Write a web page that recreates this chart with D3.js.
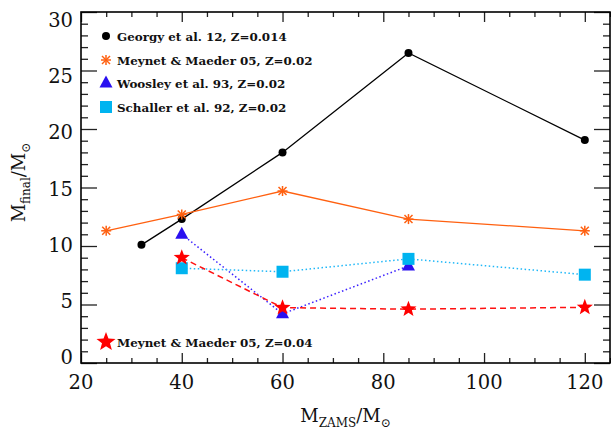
<!DOCTYPE html>
<html><head><meta charset="utf-8">
<script src="https://cdn.jsdelivr.net/npm/d3@7"></script>
<style>body{margin:0;background:#fff}svg{display:block}</style></head>
<body><svg id="c" width="611" height="432"></svg>
<script>
// ---- data ----
const georgyX = [32, 40, 60, 85, 120];
const georgyY = [10.1, 12.3, 18.0, 26.5, 19.05];
const mm02X = [25, 40, 60, 85, 120];
const mm02Y = [11.3, 12.7, 14.7, 12.3, 11.3];
const woosleyX = [40, 60, 85];
const woosleyY = [11.0, 4.2, 8.3];
const schallerX = [40, 60, 85, 120];
const schallerY = [8.1, 7.8, 8.9, 7.55];
const mm04X = [40, 60, 85, 120];
const mm04Y = [9.0, 4.73, 4.6, 4.76];
const xTicks = [20, 40, 60, 80, 100, 120];
const yTicks = [0, 5, 10, 15, 20, 25, 30];
const legendLabels = ["Georgy et al. 12, Z=0.014", "Meynet & Maeder 05, Z=0.02",
  "Woosley et al. 93, Z=0.02", "Schaller et al. 92, Z=0.02", "Meynet & Maeder 05, Z=0.04"];

const svg = d3.select("#c");
const L = 81, R = 610, T = 12, B = 363;
const x = d3.scaleLinear().domain([20, 125]).range([L, R]);
const y = d3.scaleLinear().domain([0, 30]).range([B, T]);
const yLab = d3.scaleLinear().domain([0, 30]).range([357, 20]);
const serif = "'DejaVu Serif', serif";

const xMinor = d3.range(20, 126, 5).filter(v => v % 20 !== 0);
const yMinor = d3.range(0, 31, 1).filter(v => v % 5 !== 0);

function ax(gen, tr, vals, size) {
  const g = svg.append("g").attr("transform", tr)
    .call(gen.tickValues(vals).tickSize(size).tickFormat(""));
  g.select(".domain").remove();
  g.selectAll("line").attr("stroke", "#222").attr("stroke-width", 1.3);
}
ax(d3.axisBottom(x), `translate(0,${B})`, xTicks, -10);
ax(d3.axisBottom(x), `translate(0,${B})`, xMinor, -5);
ax(d3.axisTop(x), `translate(0,${T})`, xTicks, -10);
ax(d3.axisTop(x), `translate(0,${T})`, xMinor, -5);
ax(d3.axisLeft(y), `translate(${L},0)`, yTicks, -16);
ax(d3.axisLeft(y), `translate(${L},0)`, yMinor, -7);
ax(d3.axisRight(y), `translate(${R},0)`, yTicks, -16);
ax(d3.axisRight(y), `translate(${R},0)`, yMinor, -7);

svg.append("rect").attr("x", L).attr("y", T).attr("width", R - L).attr("height", B - T)
  .attr("fill", "none").attr("stroke", "#000").attr("stroke-width", 1.6);

// tick labels
svg.selectAll(".xl").data(xTicks).enter().append("text")
  .attr("x", d => x(d)).attr("y", 389).attr("text-anchor", "middle")
  .attr("font-family", serif).attr("font-size", 19.5).attr("fill", "#111").text(d => d);
svg.selectAll(".yl").data(yTicks).enter().append("text")
  .attr("x", 73).attr("y", d => yLab(d)).attr("dy", "0.36em").attr("text-anchor", "end")
  .attr("font-family", serif).attr("font-size", 19.5).attr("fill", "#111").text(d => d);

// axis titles
const xt = svg.append("text").attr("x", (L + R) / 2).attr("y", 422)
  .attr("text-anchor", "middle").attr("font-family", serif).attr("font-size", 18).attr("fill", "#111");
xt.append("tspan").text("M");
xt.append("tspan").attr("font-size", 12).attr("dy", 5).text("ZAMS");
xt.append("tspan").attr("dy", -5).text("/M");
xt.append("tspan").attr("font-size", 12).attr("dy", 5).text("\u2299");

const yt = svg.append("text").attr("transform", `translate(25,${(T + B) / 2 - 5}) rotate(-90)`)
  .attr("text-anchor", "middle").attr("font-family", serif).attr("font-size", 18).attr("fill", "#111");
yt.append("tspan").text("M");
yt.append("tspan").attr("font-size", 12).attr("dy", 5).text("final");
yt.append("tspan").attr("dy", -5).text("/M");
yt.append("tspan").attr("font-size", 12).attr("dy", 5).text("\u2299");

// lines
const line = d3.line().x(d => x(d[0])).y(d => y(d[1]));
const zip = (a, b) => a.map((v, i) => [v, b[i]]);
const series = [
  { X: georgyX, Y: georgyY, color: "#000", dash: null, w: 1.3 },
  { X: mm02X, Y: mm02Y, color: "#ff6010", dash: null, w: 1.3 },
  { X: woosleyX, Y: woosleyY, color: "#3a20ff", dash: "1.5,2.5", w: 1.5 },
  { X: schallerX, Y: schallerY, color: "#20b8f8", dash: "1.5,2.5", w: 1.5 },
  { X: mm04X, Y: mm04Y, color: "#ff1010", dash: "6,4", w: 1.5 },
];
series.forEach(s => {
  svg.append("path").attr("d", line(zip(s.X, s.Y))).attr("fill", "none")
    .attr("stroke", s.color).attr("stroke-width", s.w).attr("stroke-dasharray", s.dash);
});

// marker shapes
function starPath(r) {
  const pts = [];
  for (let i = 0; i < 10; i++) {
    const rr = i % 2 === 0 ? r : r * 0.42;
    const a = -Math.PI / 2 + i * Math.PI / 5;
    pts.push([rr * Math.cos(a), rr * Math.sin(a)]);
  }
  return "M" + pts.map(p => p.join(",")).join("L") + "Z";
}
function drawMarker(kind, cx, cy, big) {
  const g = svg.append("g").attr("transform", `translate(${cx},${cy})`);
  if (kind === "circle") g.append("circle").attr("r", 4).attr("fill", "#000");
  else if (kind === "aster") {
    const r = 5;
    [[0, -r, 0, r], [-r, 0, r, 0], [-r * 0.8, -r * 0.8, r * 0.8, r * 0.8], [-r * 0.8, r * 0.8, r * 0.8, -r * 0.8]]
      .forEach(l => g.append("line").attr("x1", l[0]).attr("y1", l[1]).attr("x2", l[2]).attr("y2", l[3])
        .attr("stroke", "#ff6010").attr("stroke-width", 1.5));
  } else if (kind === "tri") {
    g.append("path").attr("d", "M0,-7.5L6.5,4.5L-6.5,4.5Z").attr("fill", "#2a10f0");
  } else if (kind === "square") {
    g.append("rect").attr("x", -6).attr("y", -6).attr("width", 12).attr("height", 12).attr("fill", "#00b4f0");
  } else if (kind === "star") {
    g.append("path").attr("d", starPath(big ? 10 : 8.5)).attr("fill", "#ff0000");
  }
}
const kinds = ["circle", "aster", "tri", "square", "star"];
series.forEach((s, i) => s.X.forEach((xv, j) => drawMarker(kinds[i], x(xv), y(s.Y[j]), false)));

// legend
const legY = [36, 60, 83, 107, 342];
kinds.forEach((k, i) => {
  drawMarker(k, 106, legY[i], true);
  svg.append("text").attr("x", 117).attr("y", legY[i] + 4.5)
    .attr("font-family", serif).attr("font-size", 11.9).attr("font-weight", "bold")
    .attr("fill", "#111").text(legendLabels[i]);
});
</script></body></html>
